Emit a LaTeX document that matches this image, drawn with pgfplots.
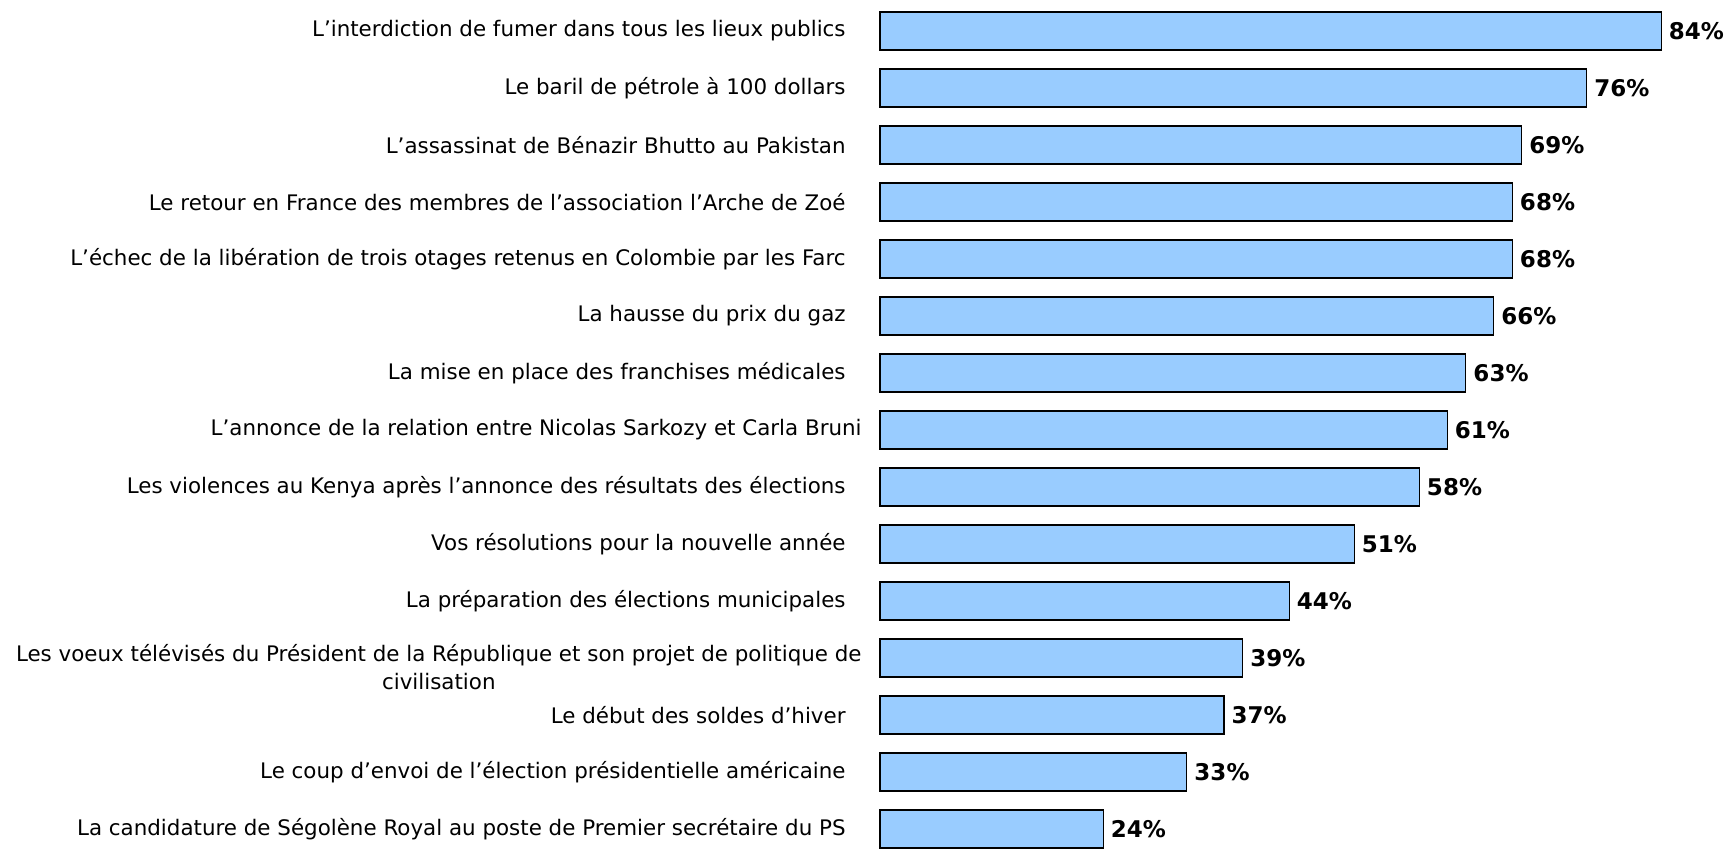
\documentclass[border=0pt]{standalone}
\usepackage{fontspec}
\setmainfont{DejaVu Sans}
\usepackage{pgfplots}
\pgfplotsset{compat=1.18}
\usetikzlibrary{calc}
\definecolor{barblue}{RGB}{153,204,255}
\newcommand{\lab}{\fontsize{10.7}{13.8}\selectfont}
\newcommand{\val}{\fontsize{11.5}{13}\selectfont\bfseries}
\newcommand{\tsp}{\hspace*{8pt}}
\begin{document}
\begin{tikzpicture}
\begin{axis}[
  scale only axis, width=423.15pt, height=425pt,
  xmin=0, xmax=91, ymin=-0.544, ymax=14.368, y dir=reverse,
  axis line style={draw=none},
  xtick=\empty,
  ytick={0,...,14},
  major tick length=0pt,
  tick style={draw=none},
  /pgf/number format/assume math mode=true,
  yticklabels={
    {L’interdiction de fumer dans tous les lieux publics\tsp},
    {Le baril de pétrole à 100 dollars\tsp},
    {L’assassinat de Bénazir Bhutto au Pakistan\tsp},
    {Le retour en France des membres de l’association l’Arche de Zoé\tsp},
    {L’échec de la libération de trois otages retenus en Colombie par les Farc\tsp},
    {La hausse du prix du gaz\tsp},
    {La mise en place des franchises médicales\tsp},
    {L’annonce de la relation entre Nicolas Sarkozy et Carla Bruni},
    {Les violences au Kenya après l’annonce des résultats des élections\tsp},
    {Vos résolutions pour la nouvelle année\tsp},
    {La préparation des élections municipales\tsp},
    {},
    {Le début des soldes d’hiver\tsp},
    {Le coup d’envoi de l’élection présidentielle américaine\tsp},
    {La candidature de Ségolène Royal au poste de Premier secrétaire du PS\tsp}
  },
  yticklabel style={font=\lab, anchor=east, inner sep=0pt, xshift=-9pt},
  xbar, bar width=19pt,
  point meta=x,
  nodes near coords={\pgfmathprintnumber[assume math mode=true]{\pgfplotspointmeta}\%},
  every node near coord/.append style={font=\val, anchor=west, inner sep=0pt, xshift=3.5pt, text=black},
  clip=false,
]
\addplot[fill=barblue, draw=black, line width=0.6pt] coordinates {
  (84,0) (76,1) (69,2) (68,3) (68,4) (66,5) (63,6) (61,7)
  (58,8) (51,9) (44,10) (39,11) (37,12) (33,13) (24,14)
};
\node[anchor=east, align=center, font=\lab, inner sep=0pt] at ([xshift=-9pt,yshift=-4.5pt]axis cs:0,11)
  {Les voeux télévisés du Président de la République et son projet de politique de\\civilisation};
\coordinate (c0) at (rel axis cs:0,0);
\coordinate (c1) at (rel axis cs:1,1);
\end{axis}
\pgfresetboundingbox
\path[use as bounding box] ($(c0)+(-440pt,0)$) rectangle ($(c1)+(1.35pt,0)$);
\end{tikzpicture}
\end{document}
